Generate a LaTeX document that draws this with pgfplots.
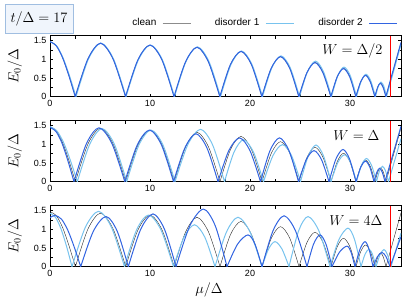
\documentclass[border=0pt]{standalone}
\usepackage{fontspec}
\usepackage{pgfplots}
\pgfplotsset{compat=1.18}
\newfontfamily\lsans{Liberation Sans}
\definecolor{cclean}{RGB}{40,40,40}
\definecolor{cdisA}{RGB}{120,195,238}
\definecolor{cdisB}{RGB}{50,100,225}
\definecolor{boxedge}{RGB}{160,190,225}
\definecolor{boxfill}{RGB}{240,245,252}
\tikzset{
  wlabel/.style={anchor=east, font=\fontsize{14.4}{16}\selectfont},
  pclean/.style={cclean, line width=0.4pt},
  pdA/.style={cdisA, line width=1pt},
  pdB/.style={cdisB, line width=1pt},
}
\pgfplotsset{
  panel/.style={
    scale only axis, width=351pt, height=61pt,
    xmin=0, xmax=35.1, ymin=0, ymax=1.63,
    xtick={0,10,20,30}, minor x tick num=3,
    ytick={0,0.5,1,1.5}, minor y tick num=1,
    tick align=inside, major tick length=3pt, minor tick length=3pt,
    tick style={black, line width=0.5pt},
    tick label style={font=\lsans\fontsize{9}{10}\selectfont},
    /pgf/number format/assume math mode=true,
    ylabel={$E_0/\Delta$},
    ylabel style={at={(axis description cs:-0.1,0.5)}, anchor=center},
    label style={font=\fontsize{14.4}{16}\selectfont},
    unbounded coords=jump,
    axis line style={line width=0.6pt},
  },
}
\begin{document}
\begin{tikzpicture}
\path[use as bounding box] (0pt,0pt) rectangle (415pt,-307pt);
\node[draw=boxedge, fill=boxfill, line width=0.6pt, minimum width=68pt, minimum height=29pt, inner sep=0pt] at (39pt,-18.5pt) {\fontsize{14.4}{16}\selectfont $t/\Delta = 17$};

% ---------- panel 1 ----------
\begin{axis}[panel, at={(50pt,-35.7pt)}, anchor=north west,
  legend style={at={(axis description cs:1.0,1.0)}, anchor=south east, yshift=4pt, draw=none, fill=none,
    font=\lsans\fontsize{10}{12}\selectfont, legend columns=3,
    /tikz/every odd column/.append style={column sep=4pt},
    /tikz/every even column/.append style={column sep=22pt}},
  legend plot pos=right,
  legend image code/.code={\draw[#1] (0pt,0pt) -- (28pt,0pt);},
  legend entries={clean, disorder 1, disorder 2}]
\addlegendimage{draw=black!45, line width=0.5pt}
\addlegendimage{draw=cdisA, line width=1pt}
\addlegendimage{draw=cdisB, line width=1pt}
\addplot[pclean, smooth, forget plot] coordinates {
(0,1.47)(0.64,1.36)(1.27,1.04)(1.9,0.56)(2.54,0) (nan,nan)
(2.54,0)(3.8,1.01)(5.05,1.43)(6.31,1.01)(7.57,0) (nan,nan)
(7.57,0)(8.79,0.98)(10.0,1.38)(11.21,0.98)(12.42,0) (nan,nan)
(12.42,0)(13.56,0.93)(14.7,1.32)(15.85,0.93)(17.0,0) (nan,nan)
(17.0,0)(18.05,0.86)(19.1,1.21)(20.15,0.86)(21.2,0) (nan,nan)
(21.2,0)(22.13,0.76)(23.05,1.07)(23.98,0.76)(24.9,0) (nan,nan)
(24.9,0)(25.7,0.65)(26.5,0.92)(27.3,0.65)(28.1,0) (nan,nan)
(28.1,0)(28.73,0.54)(29.35,0.76)(29.98,0.54)(30.6,0) (nan,nan)
(30.6,0)(31.08,0.41)(31.55,0.58)(32.03,0.41)(32.5,0) (nan,nan)
(32.5,0)(32.78,0.26)(33.05,0.37)(33.33,0.26)(33.6,0) (nan,nan)
(33.6,0)(34.35,0.72)(35.1,1.44)
};
\addplot[pdA, smooth, forget plot] coordinates {
(0,1.47)(0.65,1.36)(1.3,1.04)(1.95,0.56)(2.6,0) (nan,nan)
(2.6,0)(3.85,1.01)(5.1,1.43)(6.35,1.01)(7.6,0) (nan,nan)
(7.6,0)(8.83,0.98)(10.05,1.38)(11.25,0.98)(12.45,0) (nan,nan)
(12.45,0)(13.6,0.94)(14.75,1.33)(15.9,0.94)(17.05,0) (nan,nan)
(17.05,0)(18.1,0.86)(19.15,1.22)(20.2,0.86)(21.25,0) (nan,nan)
(21.25,0)(22.18,0.77)(23.1,1.09)(24.03,0.77)(24.95,0) (nan,nan)
(24.95,0)(25.75,0.67)(26.55,0.95)(27.35,0.67)(28.15,0) (nan,nan)
(28.15,0)(28.78,0.56)(29.4,0.79)(30.03,0.56)(30.65,0) (nan,nan)
(30.65,0)(31.13,0.42)(31.6,0.6)(32.08,0.42)(32.55,0) (nan,nan)
(32.55,0)(32.83,0.28)(33.1,0.39)(33.38,0.28)(33.65,0) (nan,nan)
(33.65,0)(34.38,0.7)(35.1,1.4)
};
\addplot[pdB, smooth, forget plot] coordinates {
(0,1.47)(0.63,1.36)(1.26,1.04)(1.89,0.56)(2.52,0) (nan,nan)
(2.52,0)(3.79,1.01)(5.05,1.43)(6.3,1.01)(7.55,0) (nan,nan)
(7.55,0)(8.78,0.98)(10.0,1.38)(11.2,0.98)(12.4,0) (nan,nan)
(12.4,0)(13.55,0.93)(14.7,1.32)(15.84,0.93)(16.98,0) (nan,nan)
(16.98,0)(18.04,0.86)(19.1,1.21)(20.14,0.86)(21.18,0) (nan,nan)
(21.18,0)(22.12,0.76)(23.05,1.07)(23.97,0.76)(24.88,0) (nan,nan)
(24.88,0)(25.69,0.64)(26.5,0.91)(27.29,0.64)(28.08,0) (nan,nan)
(28.08,0)(28.72,0.53)(29.35,0.75)(29.97,0.53)(30.58,0) (nan,nan)
(30.58,0)(31.07,0.4)(31.55,0.57)(32.02,0.4)(32.48,0) (nan,nan)
(32.48,0)(32.76,0.25)(33.03,0.36)(33.31,0.25)(33.58,0) (nan,nan)
(33.58,0)(34.34,0.73)(35.1,1.45)
};
\addplot[red, line width=0.5pt, forget plot] coordinates {(34,0)(34,1.63)};
\node[wlabel] at (axis cs:33.6,1.22) {$W=\Delta/2$};
\end{axis}

% ---------- panel 2 ----------
\begin{axis}[panel, at={(50pt,-120.7pt)}, anchor=north west]
\addplot[pclean, smooth] coordinates {
(0,1.47)(0.64,1.36)(1.27,1.04)(1.9,0.56)(2.54,0) (nan,nan)
(2.54,0)(3.8,1.01)(5.05,1.43)(6.31,1.01)(7.57,0) (nan,nan)
(7.57,0)(8.79,0.98)(10.0,1.38)(11.21,0.98)(12.42,0) (nan,nan)
(12.42,0)(13.56,0.93)(14.7,1.32)(15.85,0.93)(17.0,0) (nan,nan)
(17.0,0)(18.05,0.86)(19.1,1.21)(20.15,0.86)(21.2,0) (nan,nan)
(21.2,0)(22.13,0.76)(23.05,1.07)(23.98,0.76)(24.9,0) (nan,nan)
(24.9,0)(25.7,0.65)(26.5,0.92)(27.3,0.65)(28.1,0) (nan,nan)
(28.1,0)(28.73,0.54)(29.35,0.76)(29.98,0.54)(30.6,0) (nan,nan)
(30.6,0)(31.08,0.41)(31.55,0.58)(32.03,0.41)(32.5,0) (nan,nan)
(32.5,0)(32.78,0.26)(33.05,0.37)(33.33,0.26)(33.6,0) (nan,nan)
(33.6,0)(34.35,0.72)(35.1,1.44)
};
\addplot[pdA, smooth] coordinates {
(0,1.47)(0.68,1.36)(1.37,1.04)(2.05,0.56)(2.73,0) (nan,nan)
(2.73,0)(3.97,1.0)(5.2,1.42)(6.44,1.0)(7.67,0) (nan,nan)
(7.67,0)(8.89,0.98)(10.1,1.38)(11.3,0.98)(12.5,0) (nan,nan)
(12.5,0)(13.78,0.99)(15.05,1.4)(16.25,0.99)(17.45,0) (nan,nan)
(17.45,0)(18.4,0.79)(19.35,1.12)(20.35,0.79)(21.35,0) (nan,nan)
(21.35,0)(22.3,0.7)(23.25,0.99)(24.15,0.7)(25.05,0) (nan,nan)
(25.05,0)(25.83,0.69)(26.6,0.98)(27.35,0.69)(28.1,0) (nan,nan)
(28.1,0)(28.78,0.51)(29.45,0.72)(30.05,0.51)(30.65,0) (nan,nan)
(30.65,0)(31.15,0.44)(31.65,0.62)(32.15,0.44)(32.65,0) (nan,nan)
(32.65,0)(32.95,0.29)(33.25,0.41)(33.55,0.29)(33.85,0) (nan,nan)
(33.85,0)(34.48,0.58)(35.1,1.15)
};
\addplot[pdB, smooth] coordinates {
(0,1.45)(0.6,1.34)(1.2,1.03)(1.8,0.55)(2.4,0) (nan,nan)
(2.4,0)(3.65,1.02)(4.9,1.44)(6.19,1.02)(7.48,0) (nan,nan)
(7.48,0)(8.72,0.98)(9.95,1.38)(11.15,0.98)(12.35,0) (nan,nan)
(12.35,0)(13.48,0.9)(14.6,1.28)(15.7,0.9)(16.8,0) (nan,nan)
(16.8,0)(17.88,0.83)(18.95,1.17)(20.0,0.83)(21.05,0) (nan,nan)
(21.05,0)(22.0,0.83)(22.95,1.17)(23.9,0.83)(24.85,0) (nan,nan)
(24.85,0)(25.63,0.59)(26.4,0.83)(27.15,0.59)(27.9,0) (nan,nan)
(27.9,0)(28.6,0.61)(29.3,0.86)(29.95,0.61)(30.6,0) (nan,nan)
(30.6,0)(31.08,0.39)(31.55,0.55)(31.98,0.39)(32.4,0) (nan,nan)
(32.4,0)(32.68,0.25)(32.95,0.36)(33.23,0.25)(33.5,0) (nan,nan)
(33.5,0)(34.3,0.74)(35.1,1.48)
};
\addplot[red, line width=0.5pt, forget plot] coordinates {(34,0)(34,1.63)};
\node[wlabel] at (axis cs:33.3,1.22) {$W=\Delta$};
\end{axis}

% ---------- panel 3 ----------
\begin{axis}[panel, at={(50pt,-205.7pt)}, anchor=north west,
  xlabel={$\mu/\Delta$},
  xlabel style={at={(axis description cs:0.453,-0.38)}, anchor=center}]
\addplot[pclean, smooth] coordinates {
(0,1.47)(0.64,1.36)(1.27,1.04)(1.9,0.56)(2.54,0) (nan,nan)
(2.54,0)(3.8,1.01)(5.05,1.43)(6.31,1.01)(7.57,0) (nan,nan)
(7.57,0)(8.79,0.98)(10.0,1.38)(11.21,0.98)(12.42,0) (nan,nan)
(12.42,0)(13.56,0.93)(14.7,1.32)(15.85,0.93)(17.0,0) (nan,nan)
(17.0,0)(18.05,0.86)(19.1,1.21)(20.15,0.86)(21.2,0) (nan,nan)
(21.2,0)(22.13,0.76)(23.05,1.07)(23.98,0.76)(24.9,0) (nan,nan)
(24.9,0)(25.7,0.65)(26.5,0.92)(27.3,0.65)(28.1,0) (nan,nan)
(28.1,0)(28.73,0.54)(29.35,0.76)(29.98,0.54)(30.6,0) (nan,nan)
(30.6,0)(31.08,0.41)(31.55,0.58)(32.03,0.41)(32.5,0) (nan,nan)
(32.5,0)(32.78,0.26)(33.05,0.37)(33.33,0.26)(33.6,0) (nan,nan)
(33.6,0)(34.35,0.72)(35.1,1.44)
};
\addplot[pdA, smooth] coordinates {
(0,1.43)(0.55,1.32)(1.1,1.01)(1.65,0.55)(2.2,0) (nan,nan)
(2.2,0)(3.53,1.05)(4.85,1.48)(6.15,1.05)(7.45,0) (nan,nan)
(7.45,0)(8.65,0.98)(9.85,1.38)(11.1,0.98)(12.35,0) (nan,nan)
(12.35,0)(13.4,0.79)(14.45,1.12)(15.48,0.79)(16.5,0) (nan,nan)
(16.5,0)(17.65,0.93)(18.8,1.32)(20.0,0.93)(21.2,0) (nan,nan)
(21.2,0)(21.85,0.47)(22.5,0.67)(23.2,0.47)(23.9,0) (nan,nan)
(23.9,0)(24.85,0.95)(25.8,1.34)(26.9,0.95)(28.0,0) (nan,nan)
(28.0,0)(28.9,0.73)(29.8,1.03)(30.45,0.73)(31.1,0) (nan,nan)
(31.1,0)(31.5,0.33)(31.9,0.47)(32.25,0.33)(32.6,0) (nan,nan)
(32.6,0)(33.0,0.32)(33.4,0.46)(33.75,0.32)(34.1,0) (nan,nan)
(34.1,0)(34.6,0.45)(35.1,0.9)
};
\addplot[pdB, smooth] coordinates {
(0,1.31)(0.5,1.37)(1.15,1.27)(1.79,0.97)(2.43,0.52)(3.07,0) (nan,nan)
(3.07,0)(4.34,0.95)(5.6,1.34)(6.72,0.95)(7.83,0) (nan,nan)
(7.83,0)(9.07,1.0)(10.3,1.41)(11.45,1.0)(12.6,0) (nan,nan)
(12.6,0)(13.98,1.09)(15.35,1.54)(16.53,1.09)(17.7,0) (nan,nan)
(17.7,0)(18.75,0.6)(19.8,0.85)(20.5,0.6)(21.2,0) (nan,nan)
(21.2,0)(22.3,0.96)(23.4,1.36)(24.55,0.96)(25.7,0) (nan,nan)
(25.7,0)(26.35,0.6)(27.0,0.85)(27.6,0.6)(28.2,0) (nan,nan)
(28.2,0)(28.95,0.39)(29.7,0.55)(30.1,0.39)(30.5,0) (nan,nan)
(30.5,0)(31.0,0.47)(31.5,0.67)(31.9,0.47)(32.3,0) (nan,nan)
(32.3,0)(32.75,0.27)(33.2,0.38)(33.6,0.27)(34.0,0) (nan,nan)
(34.0,0)(34.55,0.4)(35.1,0.8)
};
\addplot[red, line width=0.5pt, forget plot] coordinates {(34,0)(34,1.63)};
\node[wlabel] at (axis cs:33.6,1.22) {$W=4\Delta$};
\end{axis}
\end{tikzpicture}
\end{document}
